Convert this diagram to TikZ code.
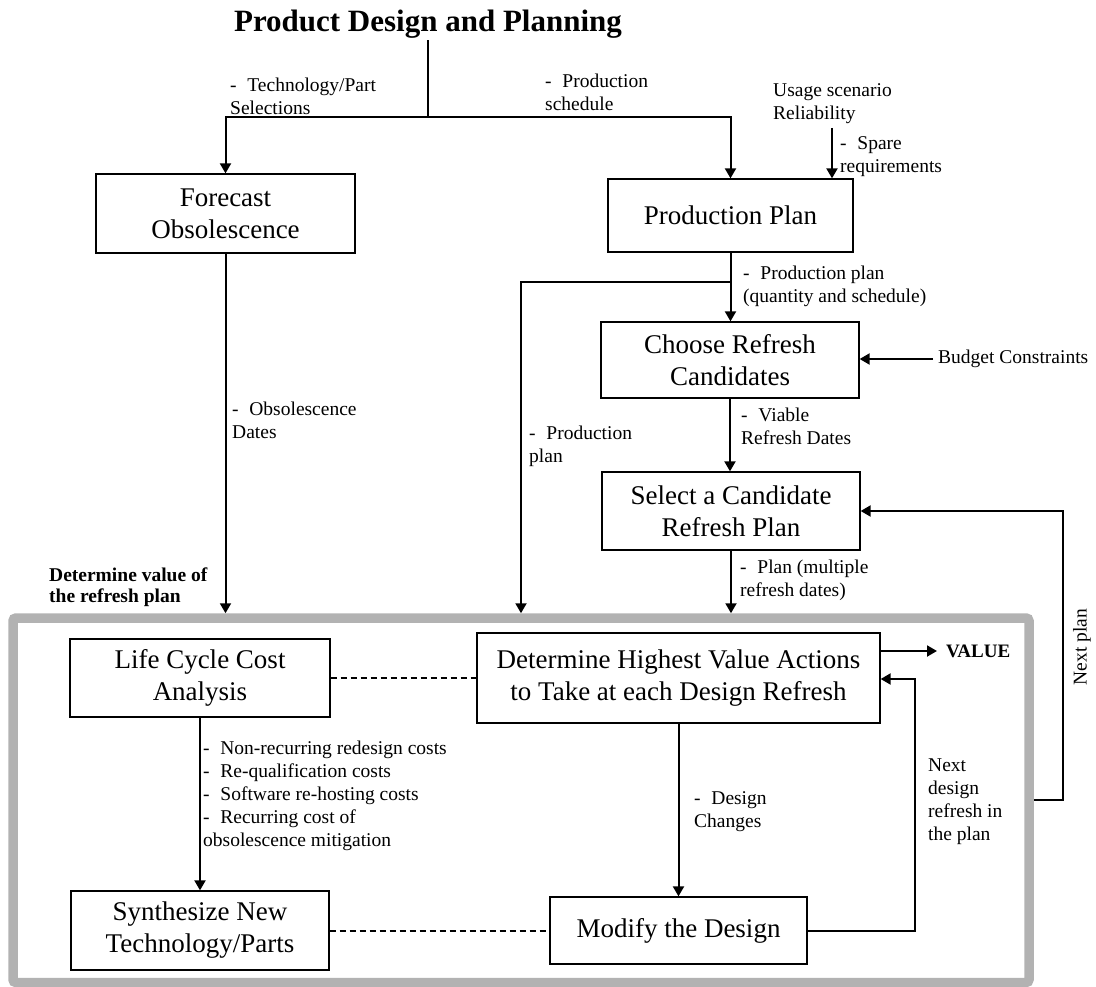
\documentclass[tikz,border=0pt]{standalone}
\usepackage{fontspec}
\setmainfont{Liberation Serif}
\usetikzlibrary{arrows.meta}
\definecolor{framegray}{RGB}{178,178,178}
\newcommand\lbldash{-\hspace{0.55em}}
\begin{document}
\begin{tikzpicture}[x=1pt,y=-1pt,
  box/.style={draw, line width=1.3pt, align=center, inner sep=0pt,
    font=\fontsize{27}{32}\selectfont},
  conn/.style={line width=2pt},
  arr/.style={conn, -{Triangle[length=10pt,width=11pt]}},
  dashedlink/.style={line width=2pt, dash pattern=on 6pt off 4pt},
  lbl/.style={font=\fontsize{19.5}{23}\selectfont, align=left, anchor=north west, inner sep=0pt},
  blbl/.style={lbl, font=\fontsize{19.5}{21}\selectfont\bfseries}]
\useasboundingbox (0,0) rectangle (1096,987);

% title and the grey frame around the value analysis
\node (title) [font=\fontsize{31}{36}\selectfont\bfseries, inner sep=1pt, anchor=base]
  at (428,32) {Product Design and Planning};
\node (frame) [draw=framegray, line width=9.5pt, rounded corners=3pt, inner sep=0pt,
  minimum width=1016pt, minimum height=364.5pt] at (521,800.25) {};

% process boxes
\node (forecast) [box, minimum width=259pt, minimum height=79pt] at (225.5,213.5)
  {Forecast\\Obsolescence};
\node (pp) [box, minimum width=245pt, minimum height=73pt] at (730.5,215.5)
  {Production Plan};
\node (choose) [box, minimum width=258pt, minimum height=76pt] at (730,360)
  {Choose Refresh\\Candidates};
\node (select) [box, minimum width=258pt, minimum height=78pt] at (731,511)
  {Select a Candidate\\Refresh Plan};
\node (det) [box, minimum width=403pt, minimum height=90pt] at (678.5,678)
  {Determine Highest Value Actions\\to Take at each Design Refresh};
\node (life) [box, minimum width=260pt, minimum height=78pt] at (200,678)
  {Life Cycle Cost\\Analysis};
\node (synth) [box, minimum width=258pt, minimum height=79pt] at (200,930.5)
  {Synthesize New\\Technology/Parts};
\node (modify) [box, minimum width=257pt, minimum height=67pt] at (678.5,930.5)
  {Modify the Design};

% free labels
\node (tech) [lbl] at (230,78) {\lbldash Technology/Part\\Selections};
\node (sched) [lbl] at (545,74) {\lbldash Production\\schedule};
\node (usage) [lbl] at (773,83) {Usage scenario\\Reliability};
\node (spare) [lbl] at (840,136) {\lbldash Spare\\requirements};
\node (ppq) [lbl] at (743,266) {\lbldash Production plan\\(quantity and schedule)};
\node (budget) [font=\fontsize{19.5}{23}\selectfont, anchor=west, inner sep=5pt]
  at (933,359) {Budget Constraints};
\node (viable) [lbl] at (741,408) {\lbldash Viable\\Refresh Dates};
\node (obs) [lbl] at (232,402) {\lbldash Obsolescence\\Dates};
\node (pplan) [lbl] at (529,426) {\lbldash Production\\plan};
\node (multi) [lbl] at (740,560) {\lbldash Plan (multiple\\refresh dates)};
\node (detval) [blbl] at (49,568) {Determine value of\\the refresh plan};
\node (val) [font=\fontsize{19}{23}\selectfont\bfseries, anchor=west, inner xsep=9pt,
  inner ysep=0pt] at (937,651) {VALUE};
\node (nextplan) [font=\fontsize{19.5}{23}\selectfont, rotate=90, inner sep=0pt]
  at (1082,647) {Next plan};
\node (nextdes) [lbl] at (928,759) {Next\\design\\refresh in\\the plan};
\node (dchg) [lbl] at (694,791) {\lbldash Design\\Changes};
\node (costs) [lbl] at (203,741) {\lbldash Non-recurring redesign costs\\
  \lbldash Re-qualification costs\\ \lbldash Software re-hosting costs\\
  \lbldash Recurring cost of\\obsolescence mitigation};

% junctions and bends
\coordinate (j1) at (428,117);
\coordinate (us) at (832,128);
\coordinate (br) at (730.5,282);
\coordinate (ppx) at (521,282);
\coordinate (npc) at (1063,800);
\coordinate (loop) at (915,679);

% connectors
\draw[conn] (title.south) -- (j1);
\draw[arr] (j1) -| (forecast.north);
\draw[arr] (j1) -| (pp.north);
\draw[arr] (us) -- (us |- pp.north);
\draw[arr] (pp.south) -- (pp.south |- choose.north);
\draw[arr] (br) -- (ppx) -- (ppx |- frame.north);
\draw[arr] (budget.west) -- (budget.west -| choose.east);
\draw[arr] (choose.south) -- (choose.south |- select.north);
\draw[arr] (forecast.south) -- (forecast.south |- frame.north);
\draw[arr] (select.south) -- (select.south |- frame.north);
\draw[arr] (frame.east |- npc) -- (npc) |- (select.east);
\draw[arr] (det.east |- val.west) -- (val.west);
\draw[arr] (modify.east) -| (loop) -- (loop -| det.east);
\draw[arr] (det.south) -- (modify.north);
\draw[arr] (life.south) -- (synth.north);
\draw[dashedlink] (life.east) -- (det.west);
\draw[dashedlink] (synth.east) -- (modify.west);
\end{tikzpicture}
\end{document}
